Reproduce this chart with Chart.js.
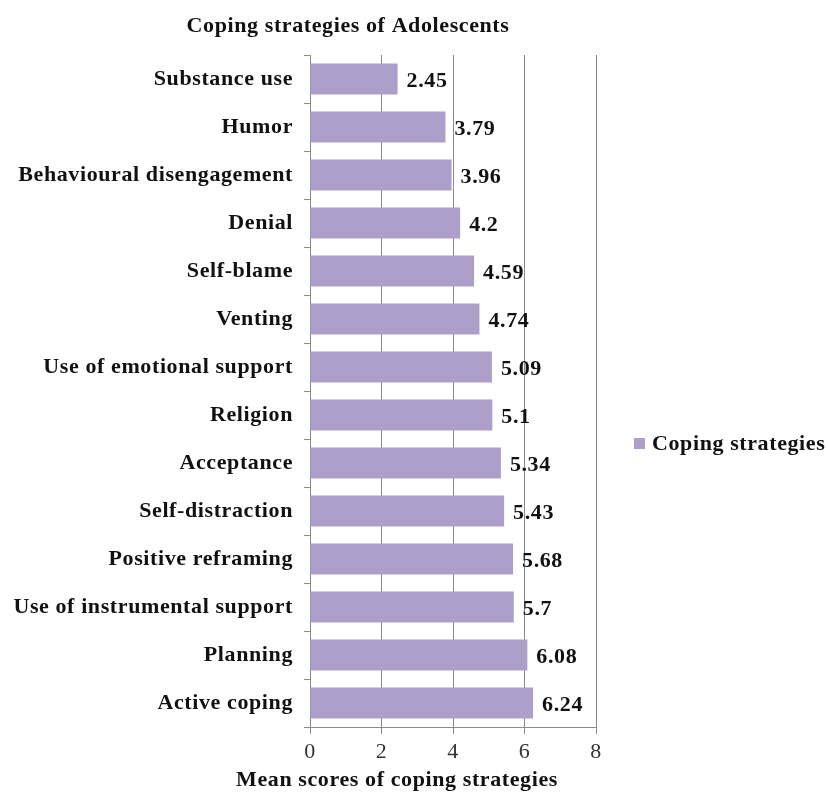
<!DOCTYPE html>
<html>
<head>
<meta charset="utf-8">
<script src="https://cdn.jsdelivr.net/npm/chart.js@4.4.0/dist/chart.umd.min.js"></script>
<style>
  html, body { margin: 0; padding: 0; background: #fff; }
  #wrap { width: 828px; height: 794px; }
</style>
</head>
<body>
<div id="wrap"><canvas id="chart"></canvas></div>
<script>
const strategies = ['Substance use', 'Humor', 'Behavioural disengagement', 'Denial', 'Self-blame', 'Venting',
    'Use of emotional support', 'Religion', 'Acceptance', 'Self-distraction', 'Positive reframing',
    'Use of instrumental support', 'Planning', 'Active coping'];
const meanScores = [2.45, 3.79, 3.96, 4.2, 4.59, 4.74, 5.09, 5.1, 5.34, 5.43, 5.68, 5.7, 6.08, 6.24];
const xTicks = [0, 2, 4, 6, 8];
const seriesName = 'Coping strategies';
const chartTitle = 'Coping strategies of Adolescents';
const xTitle = 'Mean scores of coping strategies';

const serif = '"Liberation Serif", "Times New Roman", serif';
const barColor = '#ad9fca';
const spacing = '0.6px';

// value labels, titles and legend drawn by hand
const extras = {
    id: 'extras',
    beforeDraw(chart) {
        // the source text is set a little wide
        chart.ctx.letterSpacing = spacing;
    },
    afterDatasetsDraw(chart) {
        const { ctx, chartArea } = chart;
        const meta = chart.getDatasetMeta(0);
        ctx.save();
        ctx.letterSpacing = spacing;
        ctx.fillStyle = '#111';
        ctx.font = 'bold 22px ' + serif;
        ctx.textAlign = 'left';
        ctx.textBaseline = 'middle';
        meta.data.forEach((bar, i) => {
            ctx.fillText(String(meanScores[i]), bar.x + 9, bar.y + 2);
        });

        ctx.textAlign = 'center';
        ctx.fillText(chartTitle, chartArea.left + 38, 26);
        ctx.fillText(xTitle, chartArea.left + 87, 780);

        // legend
        const lx = chartArea.right + 38;
        const ly = 443;
        ctx.fillStyle = barColor;
        ctx.fillRect(lx, ly - 5, 11, 11);
        ctx.fillStyle = '#111';
        ctx.textAlign = 'left';
        ctx.fillText(seriesName, lx + 18, ly + 1);
        ctx.restore();
    }
};

new Chart(document.getElementById('chart'), {
    type: 'bar',
    data: {
        labels: strategies,
        datasets: [{
            label: seriesName,
            data: meanScores,
            backgroundColor: barColor,
            borderWidth: 0,
            barPercentage: 0.65,
            categoryPercentage: 1.0
        }]
    },
    options: {
        indexAxis: 'y',
        responsive: true,
        maintainAspectRatio: false,
        animation: false,
        layout: { padding: { top: 55, right: 232, bottom: 0, left: 0 } },
        plugins: {
            legend: { display: false },
            title: { display: false },
            tooltip: { enabled: false }
        },
        scales: {
            x: {
                min: 0,
                max: 8,
                afterBuildTicks: (scale) => { scale.ticks = xTicks.map(v => ({ value: v })); },
                afterFit: (scale) => { scale.height = 67; },
                grid: { color: '#8a8a8a', lineWidth: 1, tickLength: 7 },
                border: { color: '#8a8a8a' },
                ticks: {
                    color: '#333',
                    padding: 5,
                    font: { family: serif, size: 22 }
                }
            },
            y: {
                afterFit: (scale) => { scale.width = 310; },
                grid: { drawOnChartArea: false, color: '#8a8a8a', tickLength: 6 },
                border: { color: '#8a8a8a' },
                ticks: {
                    color: '#111',
                    padding: 11,
                    autoSkip: false,
                    font: { family: serif, size: 22, weight: 'bold' }
                }
            }
        }
    },
    plugins: [extras]
});
</script>
</body>
</html>
